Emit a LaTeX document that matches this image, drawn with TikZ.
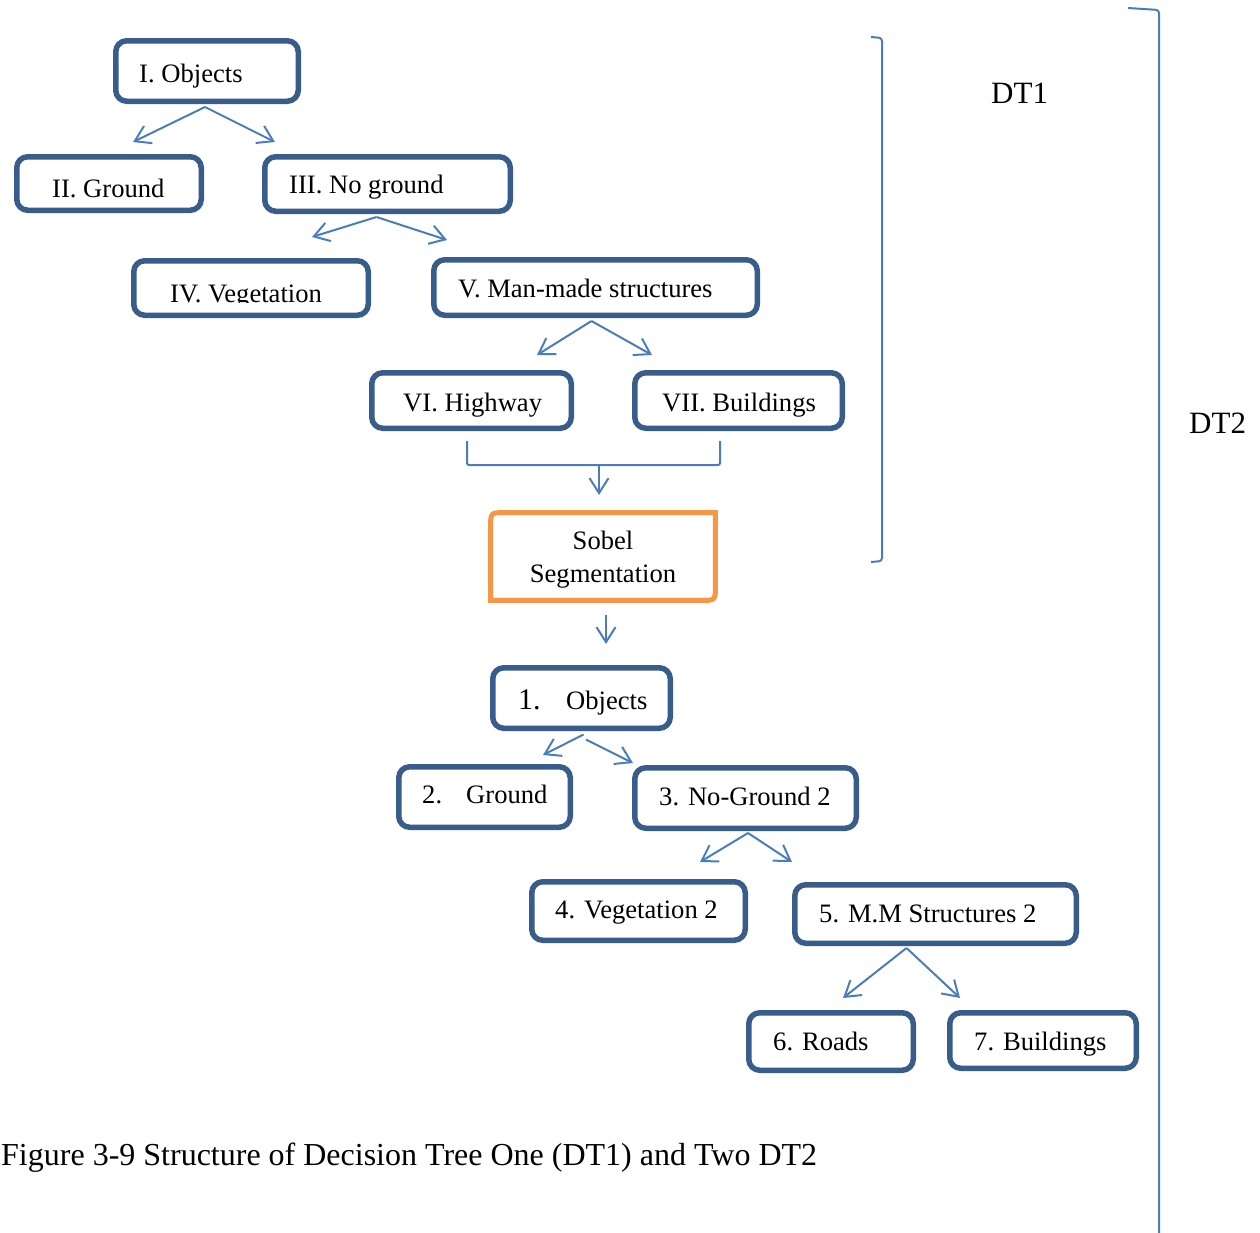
\documentclass[tikz,border=0pt]{standalone}
\usepackage{fontspec}
\setmainfont{Liberation Serif}
\usetikzlibrary{arrows.meta}
\definecolor{boxblue}{HTML}{385D8A}
\definecolor{lineblue}{HTML}{4A7EBB}
\definecolor{sobelor}{HTML}{F79646}
\tikzset{
  box/.style={draw=boxblue, line width=5.5pt, rounded corners=11pt, rectangle, inner sep=0pt, fill=white},
  lbl/.style={anchor=base west, inner sep=0pt, font=\fontsize{26.6}{30}\selectfont},
  clbl/.style={anchor=base, inner sep=0pt, font=\fontsize{26.6}{30}\selectfont},
  big/.style={anchor=base west, inner sep=0pt, font=\fontsize{31}{36}\selectfont},
  arr/.style={draw=lineblue, line width=2pt, -{Straight Barb[length=15pt,width=19pt]}},
  ln/.style={draw=lineblue, line width=2pt},
}
\begin{document}
\begin{tikzpicture}[x=1pt,y=-1pt]
\useasboundingbox[fill=white] (0,0) rectangle (1260,1232);

% ---------- DT1 boxes ----------
\node[box, minimum width=182.5pt, minimum height=60.5pt] (o1) at (207,71) {};
\node[box, minimum width=184.5pt, minimum height=53.5pt] (g1) at (109,183.5) {};
\node[box, minimum width=245.5pt, minimum height=54.5pt] (ng1) at (387.5,184) {};
\node[box, minimum width=234.5pt, minimum height=54.5pt] (veg1) at (251,288) {};
\node[box, minimum width=323.5pt, minimum height=55.5pt] (mm1) at (595.5,287.5) {};
\node[box, minimum width=199.5pt, minimum height=55.5pt] (hw) at (471.5,400.5) {};
\node[box, minimum width=207.5pt, minimum height=55.5pt] (bld1) at (738.5,400.5) {};

% ---------- Sobel ----------
\node[minimum width=224.5pt, minimum height=87.5pt, inner sep=0pt] (sobel) at (603,556.5) {};
\draw[draw=sobelor, line width=5pt, line join=miter] (sobel.south west)
  -- ([yshift=-15pt]sobel.north west)
  .. controls (sobel.north west) .. ([xshift=15pt]sobel.north west)
  -- (sobel.north east)
  -- ([yshift=15pt]sobel.south east)
  .. controls (sobel.south east) .. ([xshift=-15pt]sobel.south east)
  -- cycle;

% ---------- DT2 boxes ----------
\node[box, minimum width=177.5pt, minimum height=60.5pt] (o2) at (581.5,698) {};
\node[box, minimum width=171.5pt, minimum height=60.5pt] (g2) at (484.5,797) {};
\node[box, minimum width=221.5pt, minimum height=60.5pt] (ng2) at (745.5,798) {};
\node[box, minimum width=213.5pt, minimum height=58.5pt] (veg2) at (638.5,911) {};
\node[box, minimum width=281.5pt, minimum height=58.5pt] (mm2) at (935.5,914) {};
\node[box, minimum width=164.5pt, minimum height=57.5pt] (roads) at (831,1041.5) {};
\node[box, minimum width=186.5pt, minimum height=55.5pt] (bld2) at (1043,1040.5) {};

% ---------- texts ----------
\node[lbl] (t-o1) at (139,82) {I. Objects};
\node[lbl] (t-g1) at (52,197) {II. Ground};
\node[lbl] (t-ng1) at (289,193.5) {III. No ground};
\begin{scope}
  \clip (140,260) rectangle (365,302.5);
  \node[lbl] (t-veg1) at (170,302) {IV. Vegetation};
\end{scope}
\node[lbl] (t-mm1) at (458,297.5) {V. Man-made structures};
\node[lbl] (t-hw) at (403,411) {VI. Highway};
\node[lbl] (t-bld1) at (662,411) {VII. Buildings};
\node[clbl] (t-sob1) at (603,549.5) {Sobel};
\node[clbl] (t-sob2) at (603,582) {Segmentation};
\node[anchor=base west, inner sep=0pt, font=\fontsize{30}{34}\selectfont] (t-o2n) at (518,709) {1.};
\node[lbl] (t-o2) at (566,709) {Objects};
\node[lbl] (t-g2n) at (422,803.5) {2.};
\node[lbl] (t-g2) at (466,803.5) {Ground};
\node[lbl] (t-ng2) at (659,805.5) {3. No-Ground 2};
\node[lbl] (t-veg2) at (555,918.5) {4. Vegetation 2};
\node[lbl] (t-mm2) at (819,922.5) {5. M.M Structures 2};
\node[lbl] (t-roads) at (773,1050.5) {6. Roads};
\node[lbl] (t-bld2) at (974,1050.5) {7. Buildings};

\node[big] (dt1) at (991,103) {DT1};
\node[big] (dt2) at (1189,433) {DT2};
\node[anchor=base west, inner sep=0pt, font=\fontsize{32}{36}\selectfont] (cap) at (1,1165)
  {Figure 3-9 Structure of Decision Tree One (DT1) and Two DT2};

% ---------- connectors ----------
\coordinate (a1) at (133,142);
\coordinate (a2) at (275,142);
\draw[arr] ([xshift=-2pt,yshift=-3pt]o1.south) -- (a1);
\draw[arr] ([xshift=-2pt,yshift=-3pt]o1.south) -- (a2);

\coordinate (a3) at (312,237);
\coordinate (a4) at (447,240);
\draw[arr] ([xshift=-11pt,yshift=-3pt]ng1.south) -- (a3);
\draw[arr] ([xshift=-11pt,yshift=-3pt]ng1.south) -- (a4);

\coordinate (a5) at (537,355);
\coordinate (a6) at (652,355);
\draw[arr] ([xshift=-4pt,yshift=-3pt]mm1.south) -- (a5);
\draw[arr] ([xshift=-4pt,yshift=-3pt]mm1.south) -- (a6);

\coordinate (mg) at (599,465);
\coordinate (mgtip) at (599,495);
\draw[ln, rounded corners=2pt] ([xshift=-4.5pt,yshift=-10pt]hw.south) |- (mg) -| ([xshift=-18.5pt,yshift=-10pt]bld1.south);
\draw[arr] (mg) -- (mgtip);

\coordinate (a8) at (606,644);
\draw[arr] ([xshift=3pt,yshift=-15pt]sobel.south) -- (a8);

\coordinate (a9) at (543,755);
\coordinate (a10) at (633,763);
\draw[arr] ([xshift=2pt,yshift=-3.5pt]o2.south) -- (a9);
\draw[arr] ([xshift=4.5pt,yshift=-8.5pt]o2.south) -- (a10);

\coordinate (a11) at (700,862);
\coordinate (a12) at (792,862);
\draw[arr] ([xshift=2.5pt,yshift=-2pt]ng2.south) -- (a11);
\draw[arr] ([xshift=2.5pt,yshift=-2pt]ng2.south) -- (a12);

\coordinate (a13) at (843,998);
\coordinate (a14) at (960,998);
\draw[arr] ([xshift=-29pt,yshift=-2pt]mm2.south) -- (a13);
\draw[arr] ([xshift=-29pt,yshift=-2pt]mm2.south) -- (a14);

% ---------- brackets ----------
\draw[ln, rounded corners=3pt] (871,37) -- (882,38) -- (882,561) -- (871,562);
\draw[ln, rounded corners=3pt] (1128,8) -- (1159,10) -- (1159,1240);
\end{tikzpicture}
\end{document}
